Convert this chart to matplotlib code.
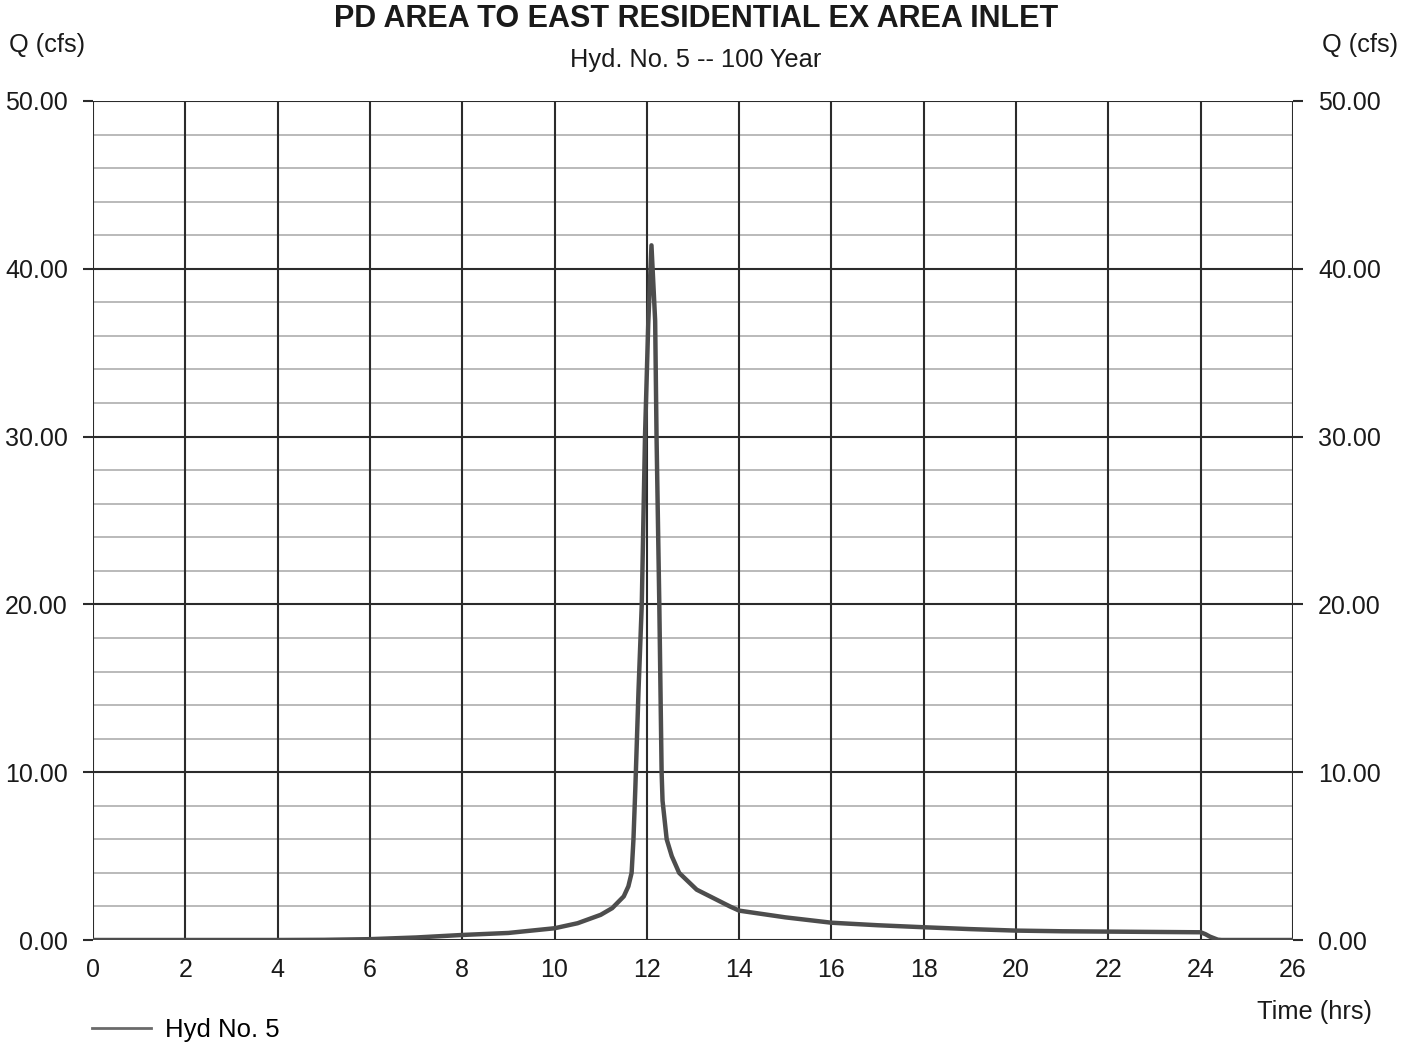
import matplotlib
matplotlib.use("Agg")
import matplotlib.pyplot as plt
from matplotlib.lines import Line2D
import numpy as np

plt.rcParams['font.family'] = ['Liberation Sans', 'DejaVu Sans']

# Hydrograph ordinates: time (hrs) and discharge Q (cfs)
time_hrs = [0, 2, 4, 5, 6, 7, 8, 9, 10, 10.5, 11, 11.25, 11.5, 11.6, 11.67,
            11.71, 11.75, 11.82, 11.89, 11.96, 12.03, 12.1, 12.18, 12.21,
            12.27, 12.32, 12.34, 12.43, 12.54, 12.7, 13.08, 13.8, 14, 15, 16,
            17, 18, 19, 20, 21, 22, 23, 24, 24.1, 24.2, 24.37, 24.45, 26]
flow_cfs = [0, 0, 0, 0.01, 0.05, 0.15, 0.3, 0.42, 0.7, 1.0, 1.5, 1.9, 2.6,
            3.2, 4.0, 6.0, 9.0, 14.9, 20.0, 30.0, 36.7, 41.4, 36.9, 30.0,
            20.0, 10.0, 8.3, 6.0, 5.0, 4.0, 3.0, 2.0, 1.75, 1.35, 1.03, 0.88,
            0.76, 0.65, 0.56, 0.52, 0.5, 0.48, 0.46, 0.35, 0.2, 0.02, 0, 0]

x_ticks = list(range(0, 27, 2))
y_major = [0, 10, 20, 30, 40, 50]
y_minor = [v for v in range(0, 51, 2) if v % 10 != 0]
y_labels = [f"{v:.2f}" for v in y_major]

title = "PD AREA TO EAST RESIDENTIAL EX AREA INLET"
subtitle = "Hyd. No. 5 -- 100 Year"
series_name = "Hyd No. 5"

W, H = 1418, 1046
fig = plt.figure(figsize=(W / 100, H / 100), dpi=100)
fig.patch.set_facecolor("white")
ax = fig.add_axes([93 / W, 1 - 940 / H, 1200 / W, 839 / H])
ax.set_xlim(0, 26)
ax.set_ylim(0, 50)

dark = "#2b2b2b"
minor_col = "#b4b4b4"
text_col = "#1a1a1a"

for v in y_minor:
    ax.axhline(v, color=minor_col, lw=1.3, zorder=1)
for v in x_ticks:
    ax.axvline(v, color=dark, lw=1.5, zorder=2)
for v in y_major:
    ax.axhline(v, color=dark, lw=1.5, zorder=2)

for s in ax.spines.values():
    s.set_visible(False)

ax.set_xticks(x_ticks)
ax.set_xticklabels([str(t) for t in x_ticks])
ax.tick_params(axis="x", length=0, pad=13, labelsize=18, colors=text_col)
ax.set_yticks(y_major)
ax.set_yticklabels(y_labels)
ax.tick_params(axis="y", which="major", left=True, right=True,
               labelleft=True, labelright=True, direction="out",
               length=7, width=1.5, color=dark, pad=11,
               labelsize=18, labelcolor=text_col)

ax.plot(time_hrs, flow_cfs, color="#4d4d4d", lw=3.2,
        solid_joinstyle="round", solid_capstyle="round", zorder=3)

fig.text(696 / W, 1 - 19 / H, title, ha="center", va="center",
         fontsize=22, fontweight="bold", color=text_col)
fig.text(696 / W, 1 - 60 / H, subtitle, ha="center", va="center",
         fontsize=18.3, color=text_col)
fig.text(47 / W, 1 - 45 / H, "Q (cfs)", ha="center", va="center",
         fontsize=18.3, color=text_col)
fig.text(1360 / W, 1 - 45 / H, "Q (cfs)", ha="center", va="center",
         fontsize=18.3, color=text_col)
fig.text(1372 / W, 1 - 1012 / H, "Time (hrs)", ha="right", va="center",
         fontsize=18.3, color=text_col)

handle = Line2D([], [], color="#6a6a6a", lw=2)
fig.legend([handle], [series_name], loc="center left",
           bbox_to_anchor=(92 / W, 1 - 1030 / H), frameon=False,
           borderpad=0, borderaxespad=0, handlelength=2.3,
           handletextpad=0.55, fontsize=18.5)

fig.savefig("out.png", dpi=100, facecolor="white")
